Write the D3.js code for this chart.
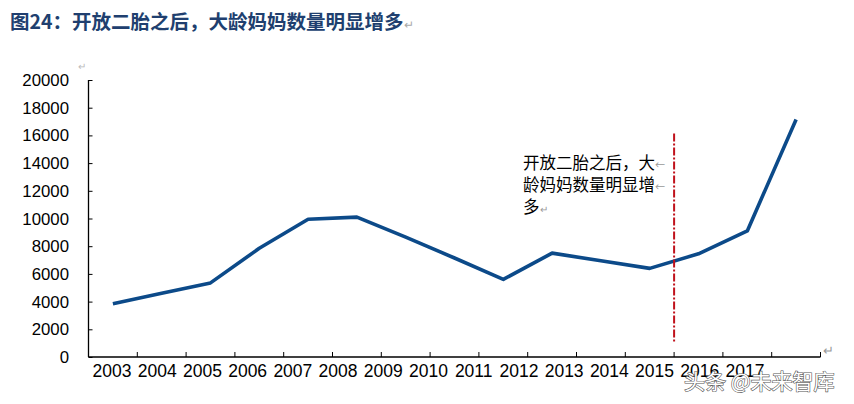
<!DOCTYPE html>
<html lang="zh">
<head>
    <meta charset="UTF-8">
    <title>大龄妈妈数量</title>
    <script src="https://d3js.org/d3.v7.min.js"></script>
    <style>
        body { margin: 0; background: #fff; }
        svg { display: block; }
    </style>
</head>
<body>
    <svg id="chart" width="854" height="404"></svg>
    <script>
        // data
        const years = ["2003", "2004", "2005", "2006", "2007", "2008", "2009", "2010",
            "2011", "2012", "2013", "2014", "2015", "2016", "2017"];
        const mothers = [3850, 4600, 5350, 7850, 9950, 10100, 8650, 7150,
            5600, 7500, 6950, 6400, 7450, 9100, 17150];
        const yTicks = [0, 2000, 4000, 6000, 8000, 10000, 12000, 14000, 16000, 18000, 20000];
        const title = "图24：开放二胎之后，大龄妈妈数量明显增多";
        const noteLines = ["开放二胎之后，大", "龄妈妈数量明显增", "多"];
        const markerYear = "2015";

        const svg = d3.select("#chart");
        const cjk = "'Noto Sans CJK SC', sans-serif";
        const latin = "Arial, 'Liberation Sans', sans-serif";
        const plotLeft = 88.5, plotRight = 820.5, plotTop = 80, plotBottom = 357;

        const x = d3.scaleBand().domain(years).range([plotLeft, plotRight]).padding(0);
        const y = d3.scaleLinear().domain([0, 20000]).range([plotBottom, plotTop]);
        // tick labels in the picture sit a little tighter than the ticks
        const xLab = d3.scalePoint().domain(years).range([112, 745]);
        const half = x.bandwidth() / 2;

        // title
        const t = svg.append("text")
            .attr("x", 10).attr("y", 29)
            .style("font-family", cjk)
            .style("font-weight", "bold")
            .style("font-size", "19.5px")
            .style("fill", "#203f6f");
        t.append("tspan").text(title);
        t.append("tspan").text("↵").style("font-size", "12px").style("font-weight", "normal").style("fill", "#aaa");

        // y axis
        const yAxis = svg.append("g")
            .attr("transform", `translate(${plotLeft},0)`)
            .call(d3.axisRight(y).tickValues(yTicks).tickSize(4).tickFormat(""));
        yAxis.select(".domain").attr("d", `M0,${plotTop}V${plotBottom}`).attr("stroke", "#000").attr("stroke-width", 1.3);
        yAxis.selectAll(".tick line").attr("stroke", "#000");

        svg.append("g").selectAll("text")
            .data(yTicks)
            .join("text")
            .attr("x", 69)
            .attr("y", d => y(d) + 6)
            .attr("text-anchor", "end")
            .style("font-family", latin)
            .style("font-size", "16.8px")
            .style("fill", "#000")
            .text(d => d);

        svg.append("text").attr("x", 78).attr("y", 70).text("↵")
            .style("font-size", "10px").style("fill", "#bbb");

        // x axis
        const xAxis = svg.append("g")
            .attr("transform", `translate(0,${plotBottom})`)
            .call(d3.axisTop(x).tickSize(5).tickFormat(""));
        xAxis.select(".domain").attr("d", `M${plotLeft},0H${plotRight}`).attr("stroke", "#000").attr("stroke-width", 1.3);
        xAxis.selectAll(".tick line").attr("transform", `translate(${half},0)`).attr("stroke", "#000");

        svg.append("g").selectAll("text")
            .data(years)
            .join("text")
            .attr("x", d => xLab(d))
            .attr("y", 377)
            .attr("text-anchor", "middle")
            .style("font-family", latin)
            .style("font-size", "17.5px")
            .style("fill", "#000")
            .text(d => d);

        svg.append("text").attr("x", 823).attr("y", 355).text("↵")
            .style("font-size", "13px").style("fill", "#999");

        // series line
        const line = d3.line()
            .x((d, i) => x(years[i]) + half)
            .y(d => y(d));

        svg.append("path")
            .datum(mothers)
            .attr("d", line)
            .attr("fill", "none")
            .attr("stroke", "#0c4a89")
            .attr("stroke-width", 3.6)
            .attr("stroke-linejoin", "round");

        // policy marker
        svg.append("line")
            .attr("x1", x(markerYear)).attr("x2", x(markerYear))
            .attr("y1", y(16000) - 2).attr("y2", y(1000))
            .attr("stroke", "#c0121c")
            .attr("stroke-width", 2)
            .attr("stroke-dasharray", "8,2,2,2");

        const note = svg.append("g")
            .style("font-family", cjk)
            .style("font-size", "16.5px")
            .style("fill", "#000");
        noteLines.forEach((s, i) => {
            const tx = note.append("text").attr("x", 523).attr("y", 169 + i * 22);
            tx.append("tspan").text(s);
            tx.append("tspan").text(i < 2 ? "←" : "↵")
                .style("font-size", "10px").style("fill", "#999");
        });

        // watermark
        svg.append("text")
            .attr("x", 684).attr("y", 389)
            .text("头条 @未来智库")
            .style("font-family", cjk)
            .style("font-size", "21px")
            .style("fill", "#fff")
            .style("stroke", "#555")
            .style("stroke-width", 1.2)
            .style("paint-order", "stroke");
    </script>
</body>
</html>
